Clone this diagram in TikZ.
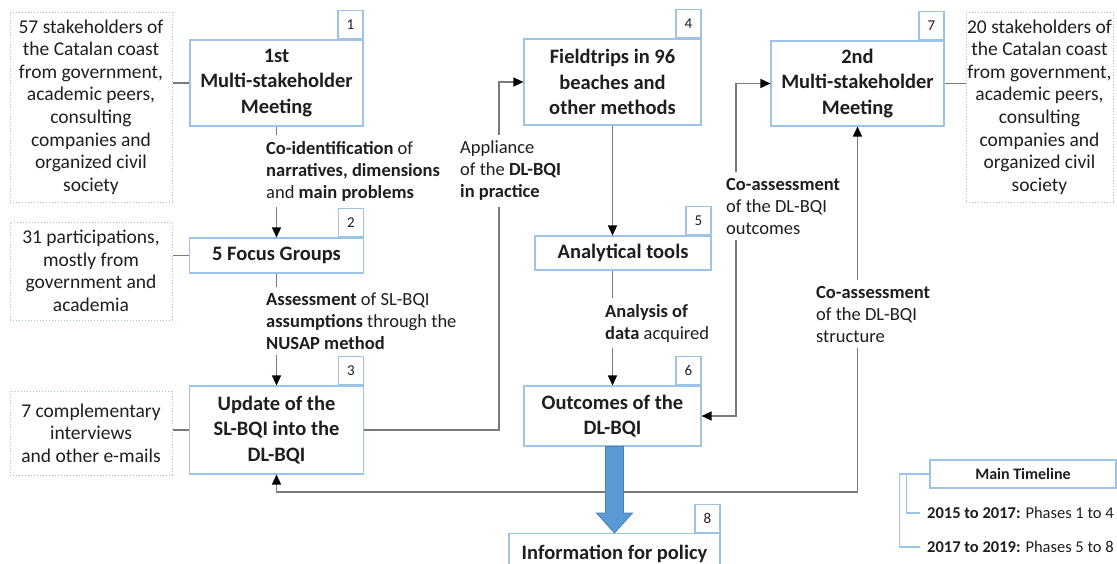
\documentclass[tikz,border=0pt]{standalone}
\usepackage{fontspec}
\setmainfont{Carlito}
\usetikzlibrary{arrows.meta,calc}
\definecolor{boxblue}{HTML}{9DC3E6}
\definecolor{dotblue}{HTML}{A9BFD6}
\definecolor{linegray}{HTML}{7A7A7A}
\definecolor{arrowfill}{HTML}{5B9BD5}
\definecolor{arrowedge}{HTML}{4A7EBB}
\definecolor{tlblue}{HTML}{9DC3E6}
\definecolor{ink}{HTML}{1E1E1E}
\begin{document}
\begin{tikzpicture}[x=1pt,y=-1pt, every node/.style={text=ink},
  stage/.style={draw=boxblue, line width=1.1pt, fill=white, align=center,
    font=\fontsize{20.5}{25.5}\selectfont\bfseries, inner sep=0pt},
  tag/.style={draw=boxblue, line width=1.1pt, fill=white, inner sep=0pt,
    minimum width=25pt, minimum height=28pt, anchor=south east,
    font=\fontsize{15}{17}\selectfont},
  actors/.style={draw=dotblue, line width=1pt, dash pattern=on 1.3pt off 1.7pt,
    align=center, inner sep=0pt, minimum width=162pt,
    font=\fontsize{19.5}{22.6}\selectfont},
  lbl/.style={fill=white, align=left, inner xsep=3pt, inner ysep=6pt,
    anchor=west, font=\fontsize{18.5}{22}\selectfont},
  link/.style={draw=linegray, line width=1.3pt},
  flow/.style={link, -{Triangle[width=9pt,length=10pt,color=black]}},
  twoway/.style={link, {Triangle[width=9pt,length=10pt,color=black]}-{Triangle[width=9pt,length=10pt,color=black]}},
  tl/.style={draw=tlblue, line width=1.1pt},
  tltext/.style={anchor=west, inner xsep=7pt, inner ysep=0pt,
    font=\fontsize{16.5}{19}\selectfont}
]
\useasboundingbox (0,0) rectangle (1117,563);
\clip (0,0) rectangle (1117,563);

% stages of the process
\node[stage, minimum width=173pt, minimum height=86pt] (m1) at (276.5,83)
  {1st\\Multi-stakeholder\\Meeting};
\node[stage, minimum width=174pt, minimum height=35pt] (fg) at (276.5,255.5)
  {5 Focus Groups};
\node[stage, minimum width=174pt, minimum height=88pt] (up) at (276.5,430)
  {Update of the\\SL-BQI into the\\DL-BQI};
\node[stage, minimum width=177pt, minimum height=86pt] (ft) at (612.5,82)
  {Fieldtrips in 96\\beaches and\\other methods};
\node[stage, minimum width=176pt, minimum height=34pt] (an) at (623,253)
  {Analytical tools};
\node[stage, minimum width=177pt, minimum height=60pt] (oc) at (612.5,416)
  {Outcomes of the\\DL-BQI};
\node[stage, minimum width=173pt, minimum height=85pt] (m2) at (857.5,83.5)
  {2nd\\Multi-stakeholder\\Meeting};
\node[stage, minimum width=211pt, minimum height=40pt, anchor=north] (ip) at (614.5,533)
  {Information for policy};

% phase numbers
\node[tag] (t1) at (m1.north east) {1};
\node[tag] (t2) at (fg.north east) {2};
\node[tag] (t3) at (up.north east) {3};
\node[tag] (t4) at (ft.north east) {4};
\node[tag] (t5) at (an.north east) {5};
\node[tag] (t6) at (oc.north east) {6};
\node[tag] (t7) at (m2.north east) {7};
\node[tag] (t8) at (ip.north east) {8};

% participants
\node[actors, minimum height=190pt] (a1) at (91,107)
  {57 stakeholders of\\the Catalan coast\\from government,\\academic peers,\\consulting\\companies and\\organized civil\\society};
\node[actors, minimum height=98pt] (a2) at (91,271)
  {31 participations,\\mostly from\\government and\\academia};
\node[actors, minimum height=84pt] (a3) at (91,433)
  {7 complementary\\interviews\\and other e-mails};
\node[actors, minimum width=147pt, minimum height=190pt] (a4) at (1039.5,107)
  {20 stakeholders of\\the Catalan coast\\from government,\\academic peers,\\consulting\\companies and\\organized civil\\society};

\draw[link] (a1.east |- m1.west) -- (m1.west);
\draw[link] (a2.east |- fg.west) -- (fg.west);
\draw[link] (a3.east |- up.west) -- (up.west);
\draw[link] (m2.east) -- (m2.east -| a4.west);

% process flow
\coordinate (vA) at (499,250);
\coordinate (vB) at (736,250);
\coordinate (hC) at (500,492);
\draw[flow] (m1.south) -- (fg.north);
\draw[flow] (fg.south) -- (up.north);
\draw[flow] (up.east) -| (vA) |- (ft.west);
\draw[flow] (ft.south) -- (ft.south |- an.north);
\draw[flow] (an.south -| oc.north) -- (oc.north);
\draw[twoway] (oc.east) -| (vB) |- (m2.west);
\draw[twoway] (up.south) |- (hC) -| (m2.south);

% transfer of results to policy
\coordinate (ba) at (oc.south -| ip.north);
\filldraw[fill=arrowfill, draw=arrowedge, line width=0.8pt]
  ($(ba)+(-9,0)$) -- ($(ip.north)+(-9,-20)$) -- ($(ip.north)+(-18,-20)$)
  -- (ip.north) -- ($(ip.north)+(18,-20)$) -- ($(ip.north)+(9,-20)$)
  -- ($(ba)+(9,0)$) -- cycle;

% connector labels
\node[lbl] (l1) at (263,171)
  {\textbf{Co-identification} of\\\textbf{narratives, dimensions}\\and \textbf{main problems}};
\node[lbl] (l2) at (263,321)
  {\textbf{Assessment} of SL-BQI\\\textbf{assumptions} through the\\\textbf{NUSAP method}};
\node[lbl] (l3) at (457,171)
  {Appliance\\of the \textbf{DL-BQI}\\\textbf{in practice}};
\node[lbl] (l4) at (602,323)
  {\textbf{Analysis of}\\\textbf{data} acquired};
\node[lbl] (l5) at (723,206)
  {\textbf{Co-assessment}\\of the DL-BQI\\outcomes};
\node[lbl] (l6) at (813,314)
  {\textbf{Co-assessment}\\of the DL-BQI\\structure};

% timeline
\node[draw=tlblue, line width=1.1pt, minimum width=186pt, minimum height=28pt,
  inner sep=0pt, font=\fontsize{16}{18}\selectfont\bfseries] (tl) at (1023,474)
  {Main Timeline};
\node[tltext] (p1) at (920,513) {\textbf{2015 to 2017:} Phases 1 to 4};
\node[tltext] (p2) at (920,547) {\textbf{2017 to 2019:} Phases 5 to 8};
\draw[tl] (tl.west) -- ++(-30,0) |- (p2.west);
\draw[tl] ($(tl.west)+(-23,0)$) |- (p1.west);
\end{tikzpicture}
\end{document}
